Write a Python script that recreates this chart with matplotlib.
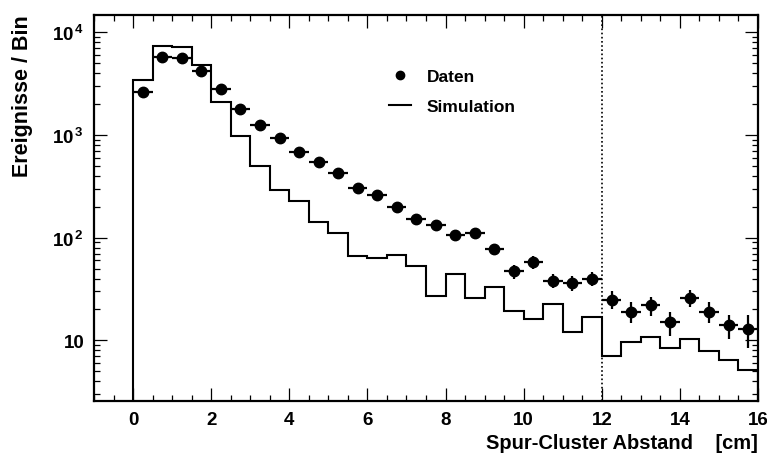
import numpy as np
import matplotlib
matplotlib.use("Agg")
import matplotlib.pyplot as plt
from matplotlib.ticker import FixedLocator, LogLocator, MultipleLocator, NullFormatter
from matplotlib.lines import Line2D

plt.rcParams['font.family'] = ['Liberation Sans', 'DejaVu Sans']
plt.rcParams['font.weight'] = 'bold'
plt.rcParams['mathtext.fontset'] = 'custom'
plt.rcParams['mathtext.rm'] = 'Liberation Sans:bold'
plt.rcParams['mathtext.bf'] = 'Liberation Sans:bold'
plt.rcParams['mathtext.it'] = 'Liberation Sans:bold'

# bin edges (cm), 0.5 cm bins
bin_edges = np.arange(0, 16.5, 0.5)

# measured data (Daten)
data_counts = [2600, 5790, 5620, 4230, 2820, 1780, 1260, 935, 687, 550,
               426, 307, 259, 200, 151, 133, 106, 112, 77, 47,
               58, 38, 36, 40, 25, 19, 22, 15, 26, 19, 14, 13]
data_err = [51, 76, 75, 65, 53, 42, 35, 31, 26, 23,
            21, 18, 16, 14, 12, 12, 10, 11, 9, 7,
            8, 6, 6, 6, 5, 4.4, 4.7, 3.9, 5.1, 4.4, 3.7, 4.5]

# simulation histogram
sim_counts = [3430, 7300, 7250, 4800, 2110, 971, 502, 291, 229, 143,
              111, 66.4, 63.9, 67.8, 52.6, 27.1, 44, 25.7, 33.3, 19.3,
              16.3, 22.6, 12.2, 16.8, 7.1, 9.6, 10.9, 8.5, 10.3, 7.8, 6.5, 5.1]

cut_value = 12

y_ticks = [10, 100, 1000, 10000]
y_ticklabels = ['10', r'$10^{\,2}$', r'$10^{\,3}$', r'$10^{\,4}$']

fig = plt.figure(figsize=(7.67, 4.6), dpi=100)
ax = fig.add_axes([94/767, 1 - 402/460, 664/767, 386.3/460])

centers = 0.5 * (bin_edges[:-1] + bin_edges[1:])
half_w = 0.5 * np.diff(bin_edges)

ax.stairs(sim_counts, bin_edges, baseline=1e-3, color='black', lw=1.5)
ax.errorbar(centers, data_counts, xerr=half_w, yerr=data_err, fmt='o',
            color='black', ms=7.5, elinewidth=1.6, capsize=0)
ax.axvline(cut_value, color='black', lw=1.2, ls=(0, (1, 1.5)))

ax.set_yscale('log')
ax.set_xlim(-1, 16)
ax.set_ylim(2.57, 1.48e4)

ax.yaxis.set_major_locator(FixedLocator(y_ticks))
ax.set_yticklabels(y_ticklabels)
ax.yaxis.set_minor_locator(LogLocator(base=10, subs=np.arange(2, 10)))
ax.yaxis.set_minor_formatter(NullFormatter())
ax.xaxis.set_major_locator(MultipleLocator(2))
ax.xaxis.set_minor_locator(MultipleLocator(0.5))

ax.tick_params(which='both', direction='in', top=True, right=True, labelsize=13.5)
ax.tick_params(which='major', length=9.5, width=0.9, pad=7)
ax.tick_params(which='minor', length=4.5, width=0.9)
for sp in ax.spines.values():
    sp.set_linewidth(1.6)

ax.set_xlabel('Spur-Cluster Abstand    [cm]', fontsize=14.5, fontweight='bold', loc='right', labelpad=4)
ax.set_ylabel('Ereignisse / Bin', fontsize=15.5, fontweight='bold', loc='top')
ax.yaxis.set_label_coords(-0.092, 1.0)

handles = [Line2D([], [], marker='o', ls='none', color='black', ms=6),
           Line2D([], [], color='black', lw=1.5)]
ax.legend(handles, ['Daten', 'Simulation'], frameon=False, fontsize=12.5,
          loc='upper left', bbox_to_anchor=(0.42, 0.90), handlelength=1.3,
          labelspacing=0.85, handletextpad=0.9)

fig.savefig('out.png', dpi=100)
